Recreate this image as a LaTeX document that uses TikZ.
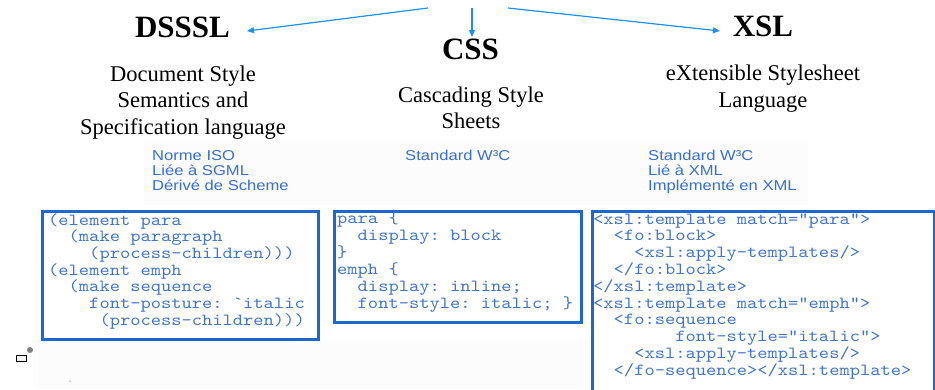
\documentclass[tikz,border=0pt]{standalone}
\usepackage{fontspec}
\setmainfont{Liberation Serif}
\newfontfamily\labelsans[FakeStretch=1.16]{Liberation Sans}
\newfontfamily\codemono[FakeStretch=1.15,Ligatures=TeXOff]{lmmono10-regular.otf}
\usetikzlibrary{arrows.meta}

\definecolor{arrowblue}{RGB}{30,144,240}
\definecolor{boxblue}{RGB}{28,104,206}
\definecolor{codeblue}{RGB}{66,116,204}
\definecolor{noteblue}{RGB}{55,110,215}
\definecolor{paper}{RGB}{252,252,253}

\begin{document}
\begin{tikzpicture}[x=1pt,y=-1pt,
  title/.style={font=\bfseries\fontsize{31}{31}\selectfont, inner sep=0pt, anchor=base},
  desc/.style={font=\fontsize{22.5}{22.5}\selectfont, inner sep=0pt, anchor=base},
  note/.style={font=\labelsans\fontsize{14.3}{14.3}\selectfont, text=noteblue, inner sep=0pt, anchor=base west},
  codeline/.style={font=\codemono\fontsize{17}{17}\selectfont\frenchspacing, text=codeblue, inner sep=0pt, anchor=base west},
  codebox/.style={draw=boxblue, line width=3pt, anchor=north west, inner sep=0pt},
  link/.style={draw=arrowblue, line width=1.2pt, -{Triangle[length=7pt,width=6pt]}}
]
\useasboundingbox (0,0) rectangle (935,389);

% faint backdrop behind the notes and the lower strip
\fill[paper] (144,140) rectangle (808,205);
\fill[paper] (33,340) rectangle (590,389);

% language names
\node[title] (dsssl) at (182.5,37) {DSSSL};
\node[title] (css)   at (470.5,59) {CSS};
\node[title] (xsl)   at (763,36)   {XSL};

% full names
\node[desc] (dsssl-d1) at (183,81)    {Document Style};
\node[desc] (dsssl-d2) at (183,107.5) {Semantics and};
\node[desc] (dsssl-d3) at (183,134)   {Specification language};
\node[desc] (css-d1)   at (471,102)   {Cascading Style};
\node[desc] (css-d2)   at (471,128)   {Sheets};
\node[desc] (xsl-d1)   at (763,80.5)  {eXtensible Stylesheet};
\node[desc] (xsl-d2)   at (763,107)   {Language};

% notes
\node[note] (dsssl-n1) at (152,160) {Norme ISO};
\node[note] (dsssl-n2) at (152,175) {Liée à SGML};
\node[note] (dsssl-n3) at (152,190) {Dérivé de Scheme};
\node[note] (css-n1)   at (405,160) {Standard W³C};
\node[note] (xsl-n1)   at (648,160) {Standard W³C};
\node[note] (xsl-n2)   at (648,175) {Lié à XML};
\node[note] (xsl-n3)   at (648,190) {Implémenté en XML};

% arrows fanning out from the top
\coordinate (src-l) at (428,8);
\coordinate (src-m) at (472,8);
\coordinate (src-r) at (508,8);
\coordinate (tip-l) at (247,31);
\coordinate (tip-m) at (472,37);
\coordinate (tip-r) at (720,31);
\draw[link] (src-l) -- (tip-l);
\draw[link] (src-m) -- (tip-m);
\draw[link] (src-r) -- (tip-r);

% code frames
\node[codebox, minimum width=276pt, minimum height=128pt] (dsssl-box) at (41,210) {};
\node[codebox, minimum width=247pt, minimum height=111pt] (css-box)   at (333,210) {};
\node[codebox, minimum width=341.5pt, minimum height=190pt] (xsl-box) at (591,210) {};

% DSSSL code
\foreach \n/\t [count=\i] in {
  0/{(element para},
  2/{(make paragraph},
  4/{(process-children)))},
  0/{(element emph},
  2/{(make sequence},
  4/{font-posture: `italic},
  5/{(process-children)))}}
  \node[codeline] (dsssl-c\i) at ({48+\n*10.26},{225+(\i-1)*16.67}) {\t};

% CSS code
\foreach \n/\t [count=\i] in {
  0/{para \{},
  2/{display: block},
  0/{\}},
  0/{emph \{},
  2/{display: inline;},
  2/{font-style: italic; \}}}
  \node[codeline] (css-c\i) at ({337+\n*10.26},{223.5+(\i-1)*16.9}) {\t};

% XSL code
\foreach \n/\t [count=\i] in {
  0/{<xsl:template match="para">},
  2/{<fo:block>},
  4/{<xsl:apply-templates/>},
  2/{</fo:block>},
  0/{</xsl:template>},
  0/{<xsl:template match="emph">},
  2/{<fo:sequence},
  8/{font-style="italic">},
  4/{<xsl:apply-templates/>},
  2/{</fo-sequence></xsl:template>}}
  \node[codeline] (xsl-c\i) at ({593+\n*10.26},{224+(\i-1)*16.8}) {\t};

% small marks at the lower left
\node[draw=black, line width=1.2pt, fill=gray!8, minimum width=10pt, minimum height=6pt, inner sep=0pt] (mark-box) at (21.5,358.5) {};
\node[circle, fill=gray, minimum size=6pt, inner sep=0pt] (mark-dot) at (30,350) {};
\node[circle, fill=gray!80, minimum size=1.5pt, inner sep=0pt] (mark-speck) at (70,381) {};
\end{tikzpicture}
\end{document}
